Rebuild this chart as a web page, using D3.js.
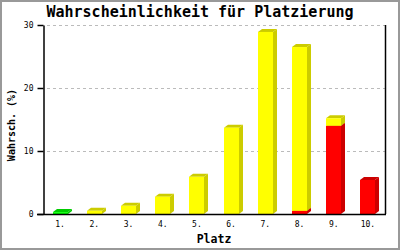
<!DOCTYPE html>
<html>
<head>
<meta charset="utf-8">
<script src="https://cdn.jsdelivr.net/npm/d3@7"></script>
<style>
  body { margin: 0; background: #fff; }
  text { font-family: "DejaVu Sans Mono", monospace; }
</style>
</head>
<body>
<script>
// dati
var places = ["1.", "2.", "3.", "4.", "5.", "6.", "7.", "8.", "9.", "10."];
var green  = [0.3, 0, 0, 0, 0, 0, 0, 0, 0, 0];
var red    = [0, 0, 0, 0, 0, 0, 0, 0.5, 14.0, 5.4];
var yellow = [0, 0.5, 1.3, 2.75, 5.9, 13.7, 28.9, 26.0, 1.2, 0];
var yTicks = [0, 10, 20, 30];

// colori: fronte e lato/tetto
var series = [
  {name: "green",  values: green,  front: "#00ff00", side: "#00cc00"},
  {name: "red",    values: red,    front: "#ff0000", side: "#cc0000"},
  {name: "yellow", values: yellow, front: "#ffff00", side: "#cccc00"}
];

var totalWidth = 400, totalHeight = 250;
var plot = {left: 43, right: 385, top: 25, bottom: 214};
var barWidth = 15, depthX = 4, depthY = 3;

var svg = d3.select("body").append("svg")
  .attr("width", totalWidth)
  .attr("height", totalHeight);

// cornice grigia
svg.append("rect")
  .attr("x", 1).attr("y", 1)
  .attr("width", totalWidth - 2).attr("height", totalHeight - 2)
  .attr("fill", "#fff")
  .attr("stroke", "#999")
  .attr("stroke-width", 2);

var x = d3.scaleBand().domain(places).range([plot.left, plot.right]).padding(0);
var y = d3.scaleLinear().domain([0, 30]).range([plot.bottom, plot.top]);

// griglia tratteggiata
svg.append("g").selectAll("line")
  .data(yTicks.filter(function(d) { return d > 0; }))
  .enter().append("line")
  .attr("x1", plot.left + 4).attr("x2", plot.right)
  .attr("y1", function(d) { return y(d) + 0.5; })
  .attr("y2", function(d) { return y(d) + 0.5; })
  .attr("stroke", "#bbb")
  .attr("stroke-dasharray", "3,3");

// calcolo dei segmenti impilati
var segments = [];
places.forEach(function(p, i) {
  var base = 0;
  series.forEach(function(s) {
    var v = s.values[i];
    if (v > 0) {
      segments.push({place: p, y0: base, y1: base + v, front: s.front, side: s.side});
      base += v;
    }
  });
});

var bars = svg.append("g");
segments.forEach(function(d) {
  var x0 = Math.round(x(d.place) + x.bandwidth() / 2 - barWidth / 2);
  var x1 = x0 + barWidth;
  var yt = y(d.y1), yb = y(d.y0);
  // tetto
  bars.append("path")
    .attr("d", "M" + x0 + "," + yt + " L" + (x0 + depthX) + "," + (yt - depthY) +
      " L" + (x1 + depthX) + "," + (yt - depthY) + " L" + x1 + "," + yt + " Z")
    .attr("fill", d.side);
  // lato
  bars.append("path")
    .attr("d", "M" + x1 + "," + yt + " L" + (x1 + depthX) + "," + (yt - depthY) +
      " L" + (x1 + depthX) + "," + (yb - depthY) + " L" + x1 + "," + yb + " Z")
    .attr("fill", d.side);
  // fronte
  bars.append("rect")
    .attr("x", x0).attr("y", yt)
    .attr("width", barWidth).attr("height", yb - yt)
    .attr("fill", d.front);
});

// asse y
var yAxis = d3.axisLeft(y).tickValues(yTicks).tickSize(6).tickSizeOuter(0).tickPadding(4);
var gy = svg.append("g")
  .attr("transform", "translate(" + (plot.left + 0.5) + ",0)")
  .call(yAxis);
gy.select(".domain").attr("stroke", "#000").attr("stroke-width", 1.5);
gy.selectAll(".tick line").attr("stroke", "#000").attr("stroke-width", 1.5);
gy.selectAll("text").attr("font-size", "8px").attr("font-family", "DejaVu Sans Mono").attr("fill", "#000");

// asse x (linea di base)
var xAxis = d3.axisBottom(x).tickSize(0).tickPadding(7);
var gx = svg.append("g")
  .attr("transform", "translate(0," + (plot.bottom + 0.5) + ")")
  .call(xAxis);
gx.select(".domain").remove();
gx.selectAll("text").attr("font-size", "8px").attr("font-family", "DejaVu Sans Mono").attr("fill", "#000");
svg.append("line")
  .attr("x1", plot.left - 6).attr("x2", plot.right + 1)
  .attr("y1", plot.bottom + 0.5).attr("y2", plot.bottom + 0.5)
  .attr("stroke", "#000").attr("stroke-width", 1.5);

// bordo destro
svg.append("line")
  .attr("x1", plot.right + 0.5).attr("x2", plot.right + 0.5)
  .attr("y1", plot.top).attr("y2", plot.bottom)
  .attr("stroke", "#000").attr("stroke-width", 1.5);

// titolo
svg.append("text")
  .attr("x", 200).attr("y", 17)
  .attr("text-anchor", "middle")
  .attr("font-size", "15px")
  .attr("font-weight", "bold")
  .text("Wahrscheinlichkeit für Platzierung");

// etichetta asse y
svg.append("text")
  .attr("transform", "translate(15,125) rotate(-90)")
  .attr("text-anchor", "middle")
  .attr("font-size", "10px")
  .attr("font-weight", "bold")
  .text("Wahrsch. (%)");

// etichetta asse x
svg.append("text")
  .attr("x", (plot.left + plot.right) / 2).attr("y", 243)
  .attr("text-anchor", "middle")
  .attr("font-size", "11.5px")
  .attr("font-weight", "bold")
  .text("Platz");
</script>
</body>
</html>
